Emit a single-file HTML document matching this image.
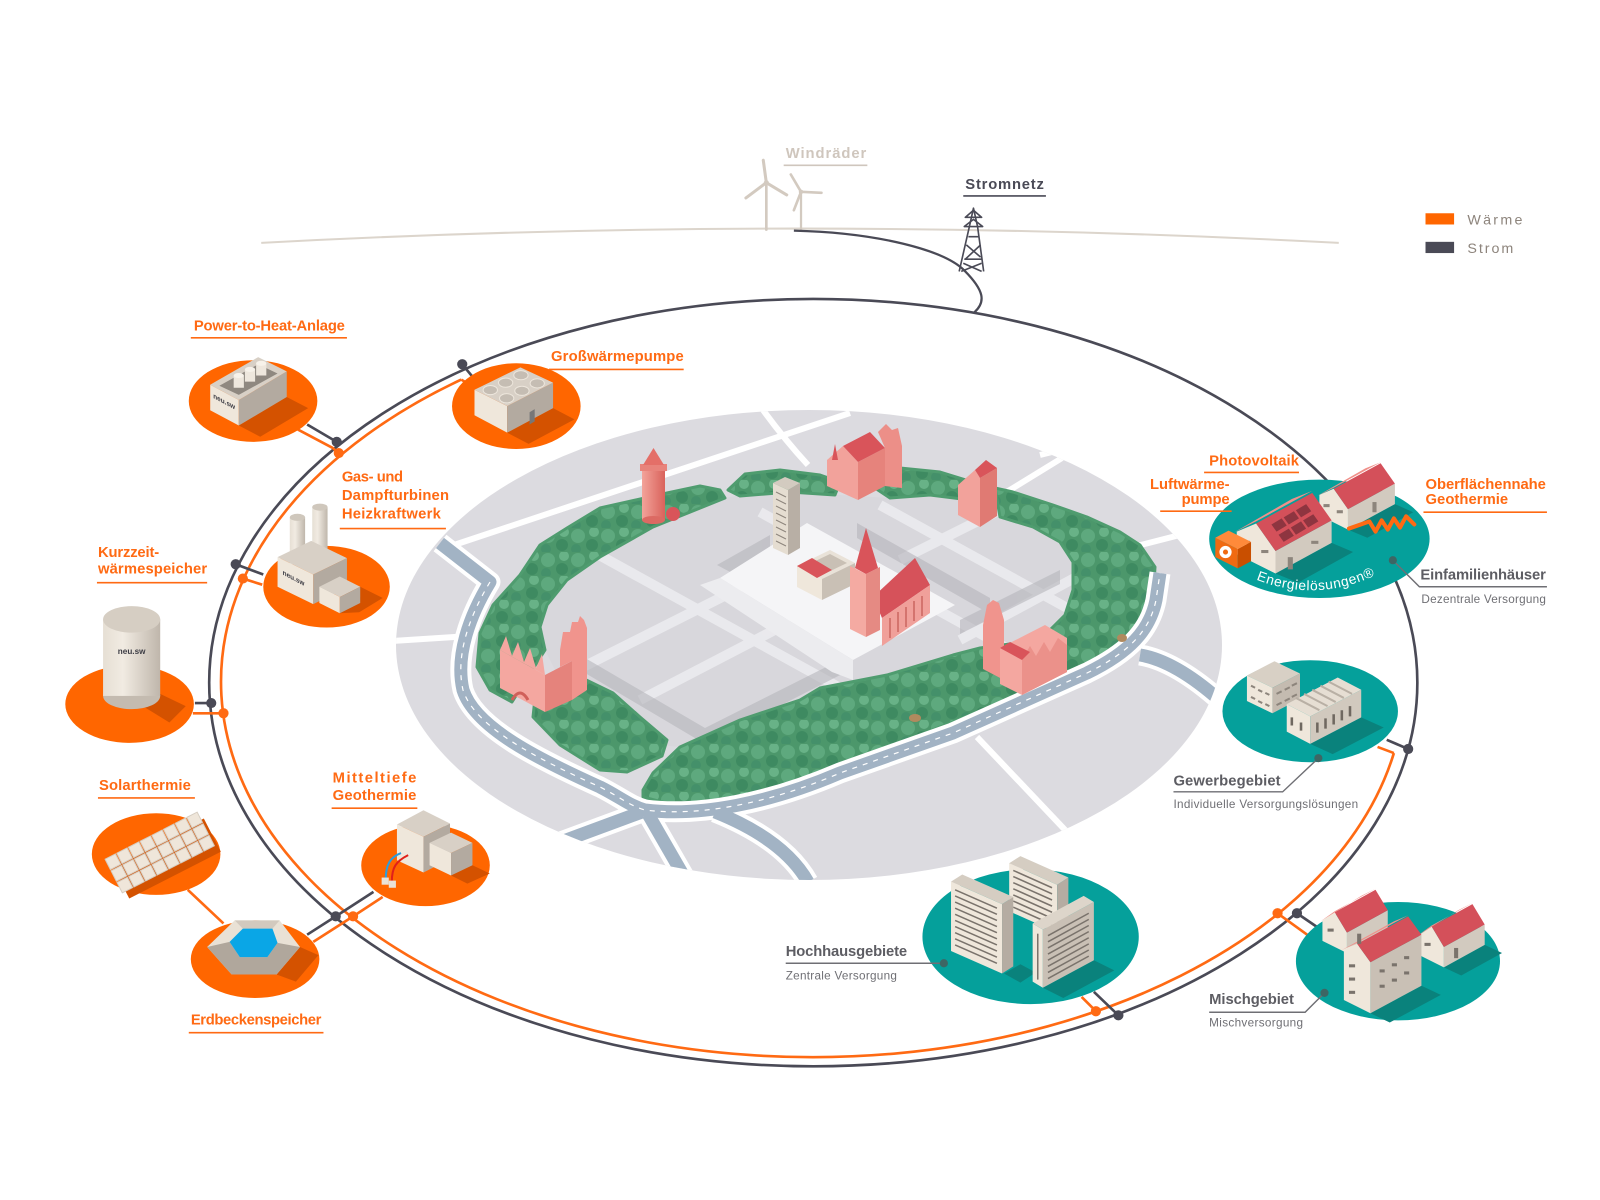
<!DOCTYPE html>
<html><head><meta charset="utf-8"><style>
html,body{margin:0;padding:0;background:#fff;}
svg{display:block;}
text{font-family:"Liberation Sans","DejaVu Sans",sans-serif;}
.ol{fill:#ff6a13;font-weight:bold;font-size:14.5px;}
.gl{fill:#5d5d63;font-weight:bold;font-size:14.5px;}
.sl{fill:#6f6f74;font-size:11.5px;}
</style></head><body>
<svg width="1600" height="1200" viewBox="0 0 1568 1176" xmlns="http://www.w3.org/2000/svg">
<defs>
 <pattern id="trees" patternUnits="userSpaceOnUse" width="30" height="24">
  <rect width="30" height="24" fill="#4c976b"/>
  <circle cx="8" cy="8" r="7" fill="#5ea97e"/>
  <circle cx="22" cy="17" r="6" fill="#3e8a61"/>
  <circle cx="24" cy="4" r="5" fill="#68b287"/>
  <circle cx="6" cy="21" r="5" fill="#44906a"/>
 </pattern>
 <linearGradient id="cyl" x1="0" x2="1" y1="0" y2="0">
  <stop offset="0" stop-color="#e6dfd4"/><stop offset="0.35" stop-color="#f1ebe2"/><stop offset="1" stop-color="#bfb6ab"/>
 </linearGradient>
 <linearGradient id="redcyl" x1="0" x2="1" y1="0" y2="0">
  <stop offset="0" stop-color="#f3a39a"/><stop offset="1" stop-color="#d9625b"/>
 </linearGradient>
 <clipPath id="mapclip"><ellipse cx="809" cy="645" rx="413" ry="235"/></clipPath>
 <clipPath id="innerclip"><path d="M725,498 L653,527 L600,557 L567,580 L547,605 L540,627 L545,650 L560,680 L600,700 L640,720 L660,745 L680,747 L740,720 L800,700 L820,688 L887,675 L953,655 L1040,640 L1065,615 L1073,590 L1073,562 L1060,542 L1033,527 L1000,517 L965,500 L930,495 L890,498 L840,495 L790,492 L740,495 Z"/></clipPath>
 <path id="ep" d="M1231,568 Q1292,592 1354,561" fill="none"/>
</defs>

<rect width="1568" height="1176" fill="#fff"/>

<!-- ================= CENTRAL MAP (real coords) ================= -->
<g transform="scale(0.98)">
 <ellipse cx="809" cy="645" rx="413" ry="235" fill="#dcdbe0"/>
 <g clip-path="url(#mapclip)" stroke="#fff" stroke-width="6" fill="none">
  <path d="M445,548 L850,413"/>
  <path d="M392,641 L470,636"/>
  <path d="M763,410 Q785,440 808,465"/>
  <path d="M1062,458 L1005,493"/>
  <path d="M1215,526 L1133,547"/>
  <path d="M977,737 L1067,832"/>
  <path d="M1040,455 L1120,435"/>
 </g>
 <!-- inner old town -->
 <path d="M725,498 L653,527 L600,557 L567,580 L547,605 L540,627 L545,650 L560,680 L600,700 L640,720 L660,745 L680,747 L740,720 L800,700 L820,688 L887,675 L953,655 L1040,640 L1065,615 L1073,590 L1073,562 L1060,542 L1033,527 L1000,517 L965,500 L930,495 L890,498 L840,495 L790,492 L740,495 Z" fill="#d8d7dc"/>
 <g clip-path="url(#innerclip)">
  <g stroke="#ececef" stroke-width="10" fill="none" opacity="0.9">
   <path d="M590,550 L880,710"/>
   <path d="M760,512 L1010,650"/>
   <path d="M583,667 L740,588"/>
   <path d="M640,700 L790,622"/>
   <path d="M880,505 L1080,615"/>
   <path d="M960,640 L1080,575"/>
   <path d="M900,560 L1060,480"/>
  </g>
  <g fill="#b6b5bb" opacity="0.6">
   <polygon points="580,655 705,728 850,655 850,670 705,744 580,670"/>
   <polygon points="857,523 990,598 990,614 857,538"/>
   <polygon points="717,565 770,535 770,550 732,573"/>
   <polygon points="960,620 1060,570 1060,584 960,634"/>
  </g>
  <polygon points="720,578 807,523 955,605 853,660" fill="#f5f5f7"/>
  <polygon points="700,585 720,578 853,660 853,680 832,672" fill="#ececef"/>
 </g>
 <!-- green park -->
 <g fill="url(#trees)" stroke="#4f9c6f" stroke-width="3" stroke-linejoin="round">
  <polygon points="720,490 700,486 667,493 600,508 567,528 540,545 520,575 493,605 480,633 477,667 490,690 512,702 545,650 540,627 547,605 567,580 600,557 653,527 725,498"/>
  <polygon points="535,698 533,717 560,745 600,770 627,772 662,756 667,740 640,717 613,693 580,677 547,690"/>
  <polygon points="643,797 673,805 740,797 807,780 840,770 920,735 1020,695 1087,667 1120,642 1140,630 1153,600 1155,567 1140,545 1120,532 1087,517 1053,505 1013,492 995,488 1000,517 1033,527 1060,542 1073,562 1073,590 1065,615 1040,640 980,648 953,655 887,675 820,688 800,700 740,720 680,747 653,773 643,790"/>
  <polygon points="728,490 745,474 780,470 820,475 840,482 835,495 790,492 740,496"/>
  <polygon points="866,482 900,468 940,472 966,480 970,500 930,495 890,498"/>
 </g>
 <!-- roads -->
 <g clip-path="url(#mapclip)" fill="none" stroke-linecap="butt" stroke-linejoin="round">
  <g stroke="#fff" stroke-width="21">
   <path d="M440,543 L490,582 C470,615 455,655 463,690 C475,728 540,760 600,787 C620,797 630,806 645,810 C700,817 770,803 840,773 L953,733 L1087,673 C1130,652 1150,630 1156,600 L1160,573"/>
   <path d="M1140,655 C1170,660 1200,682 1226,706"/>
   <path d="M642,812 L550,846"/>
   <path d="M648,814 L686,880"/>
   <path d="M715,812 C755,828 790,850 808,882"/>
  </g>
  <g stroke="#a2b3c4" stroke-width="13">
   <path d="M440,543 L490,582 C470,615 455,655 463,690 C475,728 540,760 600,787 C620,797 630,806 645,810 C700,817 770,803 840,773 L953,733 L1087,673 C1130,652 1150,630 1156,600 L1160,573"/>
   <path d="M1140,655 C1170,660 1200,682 1226,706"/>
   <path d="M642,812 L550,846"/>
   <path d="M648,814 L686,880"/>
   <path d="M715,812 C755,828 790,850 808,882"/>
  </g>
  <g stroke="#fff" stroke-width="1.2" stroke-dasharray="5 6">
   <path d="M490,582 C470,615 455,655 463,690 C475,728 540,760 600,787 C620,797 630,806 645,810 C700,817 770,803 840,773 L953,733 L1087,673 C1130,652 1150,630 1156,600 L1160,573"/>
  </g>
 </g>
 <!-- buildings -->
 <polygon points="773,483 788,490 788,555 773,548" fill="#e5ddd1"/>
 <polygon points="788,490 800,483 800,548 788,555" fill="#b8afa5"/>
 <polygon points="773,483 785,477 800,483 788,490" fill="#d3cbc0"/>
 <g stroke="#8d857c" stroke-width="1">
  <path d="M776,492 L786,497 M776,499 L786,504 M776,506 L786,511 M776,513 L786,518 M776,520 L786,525 M776,527 L786,532 M776,534 L786,539 M776,541 L786,546"/>
 </g>
 <polygon points="797,566 830,550 855,563 822,579" fill="#e9e2d8"/>
 <polygon points="805,566 830,554 847,563 822,575" fill="#c9c0b5"/>
 <polygon points="797,566 822,579 822,600 797,587" fill="#efe7db"/>
 <polygon points="822,579 855,563 855,584 822,600" fill="#c9c0b5"/>
 <polygon points="797,566 812,558 832,570 817,578" fill="#d9545a"/>
 <rect x="642" y="470" width="23" height="50" fill="url(#redcyl)"/>
 <ellipse cx="653.5" cy="520" rx="11.5" ry="4" fill="#dc6a63"/>
 <rect x="640" y="464" width="27" height="7" fill="#e8837b"/>
 <polygon points="643,465 653.5,448 664,465" fill="#e46f68"/>
 <circle cx="673" cy="514" r="7" fill="#d9545a"/>
 <polygon points="827,460 843,446 858,462 858,500 827,486" fill="#f2a29b"/>
 <polygon points="858,462 885,448 885,486 858,500" fill="#e6837c"/>
 <polygon points="843,446 870,432 885,448 858,462" fill="#d9545a"/>
 <polygon points="885,448 878,432 886,424 892,430 898,428 902,446 902,488 885,486" fill="#ec8f88"/>
 <polygon points="832,460 835,444 838,460" fill="#d9545a"/>
 <polygon points="958,485 975,470 980,478 980,527 958,515" fill="#f2a29b"/>
 <polygon points="980,478 997,468 997,516 980,527" fill="#e07a73"/>
 <polygon points="975,470 986,460 997,468 980,478" fill="#d9545a"/>
 <polygon points="873,597 915,558 930,585 882,618" fill="#d6525a"/>
 <polygon points="882,618 930,585 930,613 882,646" fill="#f0a09a"/>
 <g stroke="#d4746e" stroke-width="2"><path d="M890,618 v20 M898,612 v20 M906,607 v20 M914,601 v20 M922,596 v20"/></g>
 <polygon points="850,566 866,574 866,637 850,629" fill="#f4aaa2"/>
 <polygon points="866,574 880,567 880,630 866,637" fill="#e58a83"/>
 <polygon points="855,568 866,528 878,568 866,574" fill="#d9545a"/>
 <polygon points="500,650 545,675 545,712 500,688" fill="#f4a7a0"/>
 <polygon points="500,650 506,636 512,656 518,642 524,662 530,648 536,668 542,654 545,675" fill="#f4a7a0"/>
 <polygon points="545,675 572,661 572,700 545,712" fill="#e5837c"/>
 <polygon points="560,650 563,632 570,632 572,622 578,622 580,616 584,620 587,628 587,690 572,700 572,661 560,667" fill="#f0948d"/>
 <path d="M512,700 q8,-14 16,0" stroke="#d0605a" stroke-width="3" fill="none"/>
 <polygon points="983,625 987,605 993,600 999,603 1004,620 1004,680 983,669" fill="#f0948d"/>
 <polygon points="1000,648 1045,625 1067,638 1067,672 1022,695 1000,684" fill="#f4a7a0"/>
 <polygon points="1022,660 1030,646 1036,656 1044,642 1050,652 1058,638 1067,645 1067,672 1022,695" fill="#eb918a"/>
 <polygon points="1000,648 1010,642 1030,652 1022,660" fill="#d9545a"/>
 <ellipse cx="915" cy="718" rx="6" ry="4" fill="#b08a5e"/>
 <ellipse cx="1122" cy="638" rx="5" ry="4" fill="#b08a5e"/>
</g>

<!-- ================= TOP ================= -->
<path d="M256,238 Q780,210 1312,238" stroke="#dcd5cc" stroke-width="2" fill="none"/>
<g stroke="#d3cac0" stroke-linecap="round" fill="none">
 <path d="M751,225 L751,180" stroke-width="2.6"/>
 <path d="M751,179 L748,157 M751,179 L731,194 M751,179 L771,191" stroke-width="3"/>
 <path d="M785,225 L785,189" stroke-width="2.2"/>
 <path d="M785,188 L775,171 M785,188 L778,206 M785,188 L805,189" stroke-width="2.6"/>
</g>
<circle cx="751" cy="179" r="2.5" fill="#d3cac0"/>
<circle cx="785" cy="188" r="2.2" fill="#d3cac0"/>
<path d="M778,226 C860,228 925,245 945,265 C965,285 966,296 955,306" stroke="#4a4a56" stroke-width="2.2" fill="none"/>
<g stroke="#4a4a56" stroke-width="1.6" fill="none" stroke-linejoin="round">
 <path d="M940,266 L950,222 L954,204 L958,222 L964,266"/>
 <path d="M946,213 L954,206 L962,213 Z M945,222 L954,215 L963,222 Z"/>
 <path d="M949,232 L959,232 M947,240 L961,252 M961,240 L946,254 M945,254 L962,254 M944,258 L962,266 M962,258 L942,266"/>
</g>
<text x="770" y="155" font-size="14.5" font-weight="bold" fill="#cfc6bd" textLength="79">Windräder</text>
<line x1="768" y1="162" x2="850" y2="162" stroke="#cfc6bd" stroke-width="1.6"/>
<text x="946" y="185" font-size="14.5" font-weight="bold" fill="#4a4a56" textLength="77">Stromnetz</text>
<line x1="944" y1="192" x2="1025" y2="192" stroke="#4a4a56" stroke-width="1.6"/>

<rect x="1397" y="209" width="28" height="11" fill="#ff6600"/>
<text x="1438" y="220" font-size="14" fill="#8d847c" textLength="54">Wärme</text>
<rect x="1397" y="237" width="28" height="11" fill="#4a4a56"/>
<text x="1438" y="248" font-size="14" fill="#8d847c" textLength="45">Strom</text>

<!-- ================= RINGS ================= -->
<ellipse cx="797" cy="669" rx="592" ry="376" fill="none" stroke="#4a4a56" stroke-width="2.6"/>
<path d="M1366,738 A580,368 0 1 1 452,372" fill="none" stroke="#ff6a13" stroke-width="2.6"/>

<g fill="none" stroke-width="2.6" stroke-linejoin="round">
 <path d="M301,416 L330,433 M453,357 L467,374 M231,553 L258,563 M191,689 L207,689 M301,916 L329,898 L366,874 M1072,972 L1096,995 M1271,895 L1290,908 M1359,725 L1380,734" stroke="#4a4a56"/>
 <path d="M292,421 L326,439 L332,444 M452,372 L464,379 M238,567 L257,573 M189,699 L219,699 M184,872 L219,905 M307,923 L346,898 L375,879 M1060,977 L1074,991 M1252,895 L1281,916 M1366,738 L1350,732" stroke="#ff6a13"/>
</g>

<!-- ================= ORANGE FACILITIES ================= -->
<ellipse cx="248" cy="393" rx="63" ry="40" fill="#ff6600"/>
<polygon points="234,417 281,389 302,400 255,428" fill="#d45200"/>
<polygon points="206,377 234,392 234,417 206,402" fill="#efe7db"/>
<polygon points="234,392 281,364 281,389 234,417" fill="#b3aaa0"/>
<polygon points="206,377 253,350 281,364 234,392" fill="#d8d0c6"/>
<polygon points="215,378 253,357 272,366 234,387" fill="#8f8880"/>
<g fill="#eee7dd">
 <rect x="229" y="368" width="10" height="12"/><ellipse cx="234" cy="368" rx="5" ry="2.5" fill="#f7f2ea"/>
 <rect x="240" y="362" width="10" height="12"/><ellipse cx="245" cy="362" rx="5" ry="2.5" fill="#f7f2ea"/>
 <rect x="251" y="356" width="10" height="12"/><ellipse cx="256" cy="356" rx="5" ry="2.5" fill="#f7f2ea"/>
</g>
<text transform="matrix(0.9,0.48,0,1,209,390)" font-size="7" font-weight="bold" fill="#3c3c44">neu.sw</text>

<ellipse cx="506" cy="398" rx="63" ry="42" fill="#ff6600"/>
<polygon points="497,424 542,400 563,411 518,435" fill="#d45200"/>
<polygon points="465,382 497,398 497,424 465,407" fill="#efe7db"/>
<polygon points="497,398 542,375 542,400 497,424" fill="#b3aaa0"/>
<polygon points="465,382 510,360 542,375 497,398" fill="#d8d0c6"/>
<polygon points="519,404 524,401 524,413 519,416" fill="#777"/>
<g fill="#c5bdb3" stroke="#ede6dc" stroke-width="1">
 <ellipse cx="480.5" cy="382.3" rx="7" ry="4.5"/><ellipse cx="495.5" cy="375" rx="7" ry="4.5"/><ellipse cx="510.5" cy="367.7" rx="7" ry="4.5"/>
 <ellipse cx="496.5" cy="390.3" rx="7" ry="4.5"/><ellipse cx="511.5" cy="383" rx="7" ry="4.5"/><ellipse cx="526.5" cy="375.7" rx="7" ry="4.5"/>
</g>

<ellipse cx="320" cy="575" rx="62" ry="40" fill="#ff6600"/>
<polygon points="340,576 353,575 375,586 352,600 333,601" fill="#d45200"/>
<rect x="284" y="507" width="15" height="46" fill="url(#cyl)"/>
<ellipse cx="291.5" cy="507" rx="7.5" ry="3.5" fill="#cfc7bc"/>
<rect x="306" y="497" width="15" height="46" fill="url(#cyl)"/>
<ellipse cx="313.5" cy="497" rx="7.5" ry="3.5" fill="#cfc7bc"/>
<polygon points="272,546 305,530 340,547 307,563" fill="#d8d0c6"/>
<polygon points="272,546 307,563 307,592 272,575" fill="#efe7db"/>
<polygon points="307,563 340,547 340,576 307,592" fill="#b3aaa0"/>
<polygon points="313,575 333,565 353,575 333,585" fill="#d8d0c6"/>
<polygon points="313,575 333,585 333,601 313,591" fill="#efe7db"/>
<polygon points="333,585 353,575 353,591 333,601" fill="#b3aaa0"/>
<text transform="matrix(0.9,0.48,0,1,277,563)" font-size="7" font-weight="bold" fill="#3c3c44">neu.sw</text>

<ellipse cx="127" cy="690" rx="63" ry="38" fill="#ff6600"/>
<polygon points="140,692 157,680 182,692 166,708" fill="#d45200"/>
<ellipse cx="129" cy="682" rx="28" ry="13" fill="#c4bbb0"/>
<rect x="101" y="607" width="56" height="75" fill="url(#cyl)"/>
<ellipse cx="129" cy="607" rx="28" ry="13" fill="#d6cec3"/>
<text x="129" y="641" font-size="8" font-weight="bold" fill="#3c3c44" text-anchor="middle">neu.sw</text>

<!-- Solarthermie -->
<ellipse cx="153" cy="837" rx="63" ry="40" fill="#ff6600"/>
<g transform="matrix(0.88,-0.45,0.45,0.88,110,848)">
 <rect x="0" y="0" width="102" height="37" fill="#d45200"/>
</g>
<g transform="matrix(0.88,-0.45,0.45,0.88,103,842)" fill="#efe6da" stroke="#d6cdc1" stroke-width="1">
 <rect x="0" y="0" width="11.5" height="11.5"/><rect x="13" y="0" width="11.5" height="11.5"/><rect x="26" y="0" width="11.5" height="11.5"/><rect x="39" y="0" width="11.5" height="11.5"/><rect x="52" y="0" width="11.5" height="11.5"/><rect x="65" y="0" width="11.5" height="11.5"/><rect x="78" y="0" width="11.5" height="11.5"/><rect x="91" y="0" width="11.5" height="11.5"/>
 <rect x="0" y="13" width="11.5" height="11.5"/><rect x="13" y="13" width="11.5" height="11.5"/><rect x="26" y="13" width="11.5" height="11.5"/><rect x="39" y="13" width="11.5" height="11.5"/><rect x="52" y="13" width="11.5" height="11.5"/><rect x="65" y="13" width="11.5" height="11.5"/><rect x="78" y="13" width="11.5" height="11.5"/><rect x="91" y="13" width="11.5" height="11.5"/>
 <rect x="0" y="26" width="11.5" height="11.5"/><rect x="13" y="26" width="11.5" height="11.5"/><rect x="26" y="26" width="11.5" height="11.5"/><rect x="39" y="26" width="11.5" height="11.5"/><rect x="52" y="26" width="11.5" height="11.5"/><rect x="65" y="26" width="11.5" height="11.5"/><rect x="78" y="26" width="11.5" height="11.5"/><rect x="91" y="26" width="11.5" height="11.5"/>
</g>

<ellipse cx="250" cy="940" rx="63" ry="38" fill="#ff6600"/>
<polygon points="271,955 294,928 312,936 290,962" fill="#d45200"/>
<polygon points="203,928 230,902 274,902 294,928 271,955 227,955" fill="#e9e1d5"/>
<polygon points="203,928 227,955 271,955 294,928 272,924 262,938 235,938 225,923" fill="#b0a79c"/>
<polygon points="230,902 274,902 267,910 238,910" fill="#d2c9be"/>
<polygon points="225,923 238,910 267,910 272,924 262,938 235,938" fill="#0aa6e6"/>

<ellipse cx="417" cy="848" rx="63" ry="40" fill="#ff6600"/>
<polygon points="441,842 463,848 480,856 458,866 442,858" fill="#d45200"/>
<polygon points="389,808 415,794 441,807 415,820" fill="#d8d0c6"/>
<polygon points="389,808 415,820 415,855 389,843" fill="#efe7db"/>
<polygon points="415,820 441,807 441,842 415,855" fill="#b3aaa0"/>
<polygon points="421,826 442,816 463,826 442,836" fill="#d8d0c6"/>
<polygon points="421,826 442,836 442,858 421,848" fill="#efe7db"/>
<polygon points="442,836 463,826 463,848 442,858" fill="#b3aaa0"/>
<path d="M378,862 C378,848 382,840 393,836" stroke="#2a9ee0" stroke-width="2" fill="none"/>
<path d="M384,864 C384,850 388,844 400,838" stroke="#e0201a" stroke-width="2" fill="none"/>
<rect x="374" y="860" width="7" height="7" fill="#e9e2d8"/>
<rect x="381" y="863" width="7" height="7" fill="#e9e2d8"/>

<text class="ol" x="190" y="324" textLength="148">Power-to-Heat-Anlage</text>
<line x1="187" y1="331" x2="340" y2="331" stroke="#ff6a13" stroke-width="1.6"/>
<text class="ol" x="540" y="354" textLength="130">Großwärmepumpe</text>
<line x1="538" y1="362" x2="670" y2="362" stroke="#ff6a13" stroke-width="1.6"/>
<text class="ol" x="335" y="472" textLength="60">Gas- und</text>
<text class="ol" x="335" y="490" textLength="105">Dampfturbinen</text>
<text class="ol" x="335" y="508" textLength="97">Heizkraftwerk</text>
<line x1="333" y1="518" x2="437" y2="518" stroke="#ff6a13" stroke-width="1.6"/>
<text class="ol" x="96" y="546" textLength="60">Kurzzeit-</text>
<text class="ol" x="96" y="562" textLength="107">wärmespeicher</text>
<line x1="95" y1="571" x2="203" y2="571" stroke="#ff6a13" stroke-width="1.6"/>
<text class="ol" x="97" y="774" textLength="90">Solarthermie</text>
<line x1="96" y1="782" x2="191" y2="782" stroke="#ff6a13" stroke-width="1.6"/>
<text class="ol" x="326" y="767" textLength="82">Mitteltiefe</text>
<text class="ol" x="326" y="784" textLength="82">Geothermie</text>
<line x1="325" y1="792" x2="409" y2="792" stroke="#ff6a13" stroke-width="1.6"/>
<text class="ol" x="187" y="1004" textLength="128">Erdbeckenspeicher</text>
<line x1="185" y1="1012" x2="317" y2="1012" stroke="#ff6a13" stroke-width="1.6"/>

<!-- ================= TEAL DISTRICTS ================= -->
<ellipse cx="1293" cy="528" rx="108" ry="58" fill="#05a09b"/>
<polygon points="1250,562 1305,532 1326,541 1272,571" fill="#0a827c"/>
<polygon points="1321,519 1367,494 1385,502 1340,527" fill="#0a827c"/>
<polygon points="1293,505 1321,519 1321,499 1307,479 1293,485" fill="#efe7db"/>
<polygon points="1321,519 1367,494 1367,474 1321,499" fill="#d2cabf"/>
<polygon points="1321,499 1367,474 1353,454 1307,479" fill="#d4505a"/>
<polygon points="1291,486 1307,478 1353,453 1338,459" fill="#f0908a"/>
<g fill="#8d857c"><rect x="1297" y="494" width="6" height="3"/><rect x="1310" y="500" width="6" height="3"/><rect x="1345" y="492" width="4" height="10"/></g>
<polyline points="1322,518 1342,511 1348,521 1354,510 1360,519 1366,508 1372,517 1378,506 1386,514" fill="none" stroke="#ff6a13" stroke-width="4" stroke-linejoin="round" stroke-linecap="round"/>
<polygon points="1212,543 1250,562 1250,540 1231,513 1212,521" fill="#efe7db"/>
<polygon points="1250,562 1305,532 1305,510 1250,540" fill="#d2cabf"/>
<polygon points="1250,540 1305,510 1286,483 1231,513" fill="#d4505a"/>
<polygon points="1209,522 1231,511 1286,481 1266,489" fill="#f0908a"/>
<g fill="#8e3540">
 <polygon points="1258,531 1268,525 1263,518 1253,524"/><polygon points="1270,524 1280,518 1275,511 1265,517"/><polygon points="1282,517 1292,511 1287,504 1277,510"/>
 <polygon points="1251,521 1261,515 1256,508 1246,514"/><polygon points="1263,514 1273,508 1268,501 1258,507"/><polygon points="1275,507 1285,501 1280,494 1270,500"/>
</g>
<g fill="#8d857c"><rect x="1218" y="530" width="7" height="3"/><rect x="1236" y="539" width="7" height="3"/><rect x="1262" y="546" width="5" height="12"/><rect x="1285" y="530" width="7" height="3"/></g>
<polygon points="1191,527 1213,538 1213,557 1191,546" fill="#f06a12"/>
<polygon points="1213,538 1226,531 1226,550 1213,557" fill="#c94f00"/>
<polygon points="1191,527 1204,520 1226,531 1213,538" fill="#ff8a3a"/>
<circle cx="1201" cy="541" r="6" fill="#fff"/>
<circle cx="1201" cy="541" r="2.5" fill="#f06a12"/>
<text font-size="13.5" fill="#fff"><textPath href="#ep" textLength="120">Energielösungen®</textPath></text>

<ellipse cx="1284" cy="697" rx="86" ry="50" fill="#05a09b"/>
<polygon points="1284,729 1334,703 1356,713 1306,739" fill="#0a827c"/>
<polygon points="1222,662 1249,648 1274,660 1247,674" fill="#d8d0c5"/>
<polygon points="1222,662 1247,674 1247,699 1222,687" fill="#efe7db"/>
<polygon points="1247,674 1274,660 1274,685 1247,699" fill="#c4bbb0"/>
<g stroke="#8d857c" stroke-width="2"><path d="M1226,672 l4,2 M1233,676 l4,2 M1240,679 l4,2 M1226,683 l4,2 M1233,687 l4,2 M1240,690 l4,2 M1251,680 l5,-2.5 M1259,676 l5,-2.5 M1266,672 l5,-2.5 M1251,691 l5,-2.5 M1259,687 l5,-2.5 M1266,683 l5,-2.5"/></g>
<polygon points="1261,690 1284,702 1284,729 1261,717" fill="#efe7db"/>
<polygon points="1284,702 1334,676 1334,703 1284,729" fill="#d1c9be"/>
<polygon points="1261,690 1284,702 1334,676 1311,664" fill="#e6ded3"/>
<g stroke="#b9b0a5" stroke-width="2"><path d="M1270,684 l23,12 M1278,680 l23,12 M1286,676 l23,12 M1294,672 l23,12 M1302,668 l23,12"/></g>
<g stroke="#6f6860" stroke-width="2.5"><path d="M1291,708 v10 M1299,704 v10 M1307,700 v10 M1315,696 v10 M1323,692 v10 M1266,703 v8 M1275,708 v8"/></g>

<ellipse cx="1010" cy="918" rx="106" ry="66" fill="#05a09b"/>
<polygon points="984,954 1000,945 1015,953 1000,963" fill="#0a827c"/>
<polygon points="1022,968 1072,941 1092,951 1042,978" fill="#0a827c"/>
<polygon points="989,846 1036,867 1036,914 989,893" fill="#efe7db"/>
<polygon points="1036,867 1047,860 1047,907 1036,914" fill="#b5aca2"/>
<polygon points="989,846 1000,839 1047,860 1036,867" fill="#d5cdc2"/>
<g stroke="#7a736c" stroke-width="1.5"><path d="M993,853 l38,17 M993,859 l38,17 M993,865 l38,17 M993,871 l38,17 M993,877 l38,17 M993,883 l38,17 M993,889 l38,17"/></g>
<polygon points="932,864 982,886 982,954 932,932" fill="#efe7db"/>
<polygon points="982,886 993,879 993,947 982,954" fill="#b5aca2"/>
<polygon points="932,864 943,857 993,879 982,886" fill="#d5cdc2"/>
<g stroke="#7a736c" stroke-width="1.5"><path d="M936,872 l41,18 M936,878 l41,18 M936,884 l41,18 M936,890 l41,18 M936,896 l41,18 M936,902 l41,18 M936,908 l41,18 M936,914 l41,18 M936,920 l41,18 M936,926 l41,18"/></g>
<polygon points="1012,905 1022,911 1022,968 1012,962" fill="#efe7db"/>
<polygon points="1022,911 1072,884 1072,941 1022,968" fill="#c9c0b5"/>
<polygon points="1012,905 1062,878 1072,884 1022,911" fill="#ddd5ca"/>
<path d="M1017,915 v45" stroke="#7a736c" stroke-width="1.5"/>
<g stroke="#7a736c" stroke-width="1.5"><path d="M1027,917 l40,-22 M1027,923 l40,-22 M1027,929 l40,-22 M1027,935 l40,-22 M1027,941 l40,-22 M1027,947 l40,-22 M1027,953 l40,-22 M1027,959 l40,-22"/></g>

<ellipse cx="1370" cy="942" rx="100" ry="58" fill="#05a09b"/>
<polygon points="1343,993 1393,966 1412,975 1362,1002" fill="#0a827c"/>
<polygon points="1415,948 1455,926 1472,934 1432,956" fill="#0a827c"/>
<polygon points="1296,922 1320,934 1320,914 1308,894 1296,902" fill="#efe7db"/>
<polygon points="1320,934 1360,912 1360,892 1320,914" fill="#d2cabf"/>
<polygon points="1320,914 1360,892 1348,872 1308,894" fill="#d4505a"/>
<polygon points="1294,903 1308,893 1348,871 1334,878" fill="#f0908a"/>
<polygon points="1391,936 1415,948 1415,928 1403,908 1391,916" fill="#efe7db"/>
<polygon points="1415,948 1455,926 1455,906 1415,928" fill="#d2cabf"/>
<polygon points="1415,928 1455,906 1443,886 1403,908" fill="#d4505a"/>
<polygon points="1389,917 1403,907 1443,885 1429,892" fill="#f0908a"/>
<polygon points="1317,980 1343,993 1343,943 1330,925 1317,930" fill="#efe7db"/>
<polygon points="1343,993 1393,966 1393,916 1343,943" fill="#c9c0b5"/>
<polygon points="1343,943 1393,916 1380,898 1330,925" fill="#d4505a"/>
<polygon points="1315,931 1330,924 1380,897 1366,903" fill="#f0908a"/>
<g fill="#7a736c">
 <rect x="1322" y="945" width="6" height="3"/><rect x="1322" y="958" width="6" height="3"/><rect x="1322" y="971" width="6" height="3"/>
 <rect x="1352" y="950" width="5" height="3"/><rect x="1364" y="944" width="5" height="3"/><rect x="1376" y="937" width="5" height="3"/>
 <rect x="1352" y="965" width="5" height="3"/><rect x="1364" y="959" width="5" height="3"/><rect x="1376" y="952" width="5" height="3"/>
 <rect x="1301" y="910" width="6" height="3"/><rect x="1330" y="915" width="4" height="10"/>
 <rect x="1396" y="924" width="6" height="3"/><rect x="1425" y="929" width="4" height="10"/>
</g>

<g stroke="#6f6f74" stroke-width="1.4" fill="none">
 <path d="M1365,549 L1391,575 L1516,575"/>
 <path d="M1292,743 L1257,776 L1150,776"/>
 <path d="M925,944 L770,944"/>
 <path d="M1298,973 L1279,992 L1185,992"/>
</g>
<g fill="#3d6664">
 <circle cx="1365" cy="549" r="4"/><circle cx="1292" cy="743" r="4"/><circle cx="925" cy="944" r="4"/><circle cx="1298" cy="973" r="4"/>
</g>
<text class="gl" x="1392" y="568" textLength="123">Einfamilienhäuser</text>
<text class="sl" x="1393" y="591" textLength="122">Dezentrale Versorgung</text>
<text class="gl" x="1150" y="770" textLength="105">Gewerbegebiet</text>
<text class="sl" x="1150" y="792" textLength="181">Individuelle Versorgungslösungen</text>
<text class="gl" x="770" y="937" textLength="119">Hochhausgebiete</text>
<text class="sl" x="770" y="960" textLength="109">Zentrale Versorgung</text>
<text class="gl" x="1185" y="984" textLength="83">Mischgebiet</text>
<text class="sl" x="1185" y="1006" textLength="92">Mischversorgung</text>

<text class="ol" x="1185" y="456" textLength="88">Photovoltaik</text>
<line x1="1180" y1="463" x2="1273" y2="463" stroke="#ff6a13" stroke-width="1.6"/>
<text class="ol" x="1127" y="479" textLength="78">Luftwärme-</text>
<text class="ol" x="1158" y="494" textLength="47">pumpe</text>
<line x1="1137" y1="501" x2="1207" y2="501" stroke="#ff6a13" stroke-width="1.6"/>
<text class="ol" x="1397" y="479" textLength="118">Oberflächennahe</text>
<text class="ol" x="1397" y="494" textLength="81">Geothermie</text>
<line x1="1395" y1="502" x2="1516" y2="502" stroke="#ff6a13" stroke-width="1.6"/>

<g fill="#4a4a56">
 <circle cx="453" cy="357" r="5"/><circle cx="330" cy="433" r="5"/><circle cx="231" cy="553" r="5"/><circle cx="207" cy="689" r="5"/>
 <circle cx="329" cy="898" r="5"/><circle cx="1096" cy="995" r="5"/><circle cx="1271" cy="895" r="5"/><circle cx="1380" cy="734" r="5"/>
</g>
<g fill="#ff6a13">
 <circle cx="332" cy="444" r="5"/><circle cx="238" cy="567" r="5"/><circle cx="219" cy="699" r="5"/>
 <circle cx="346" cy="898" r="5"/><circle cx="1074" cy="991" r="5"/><circle cx="1252" cy="895" r="5"/>
</g>
</svg>
</body></html>
